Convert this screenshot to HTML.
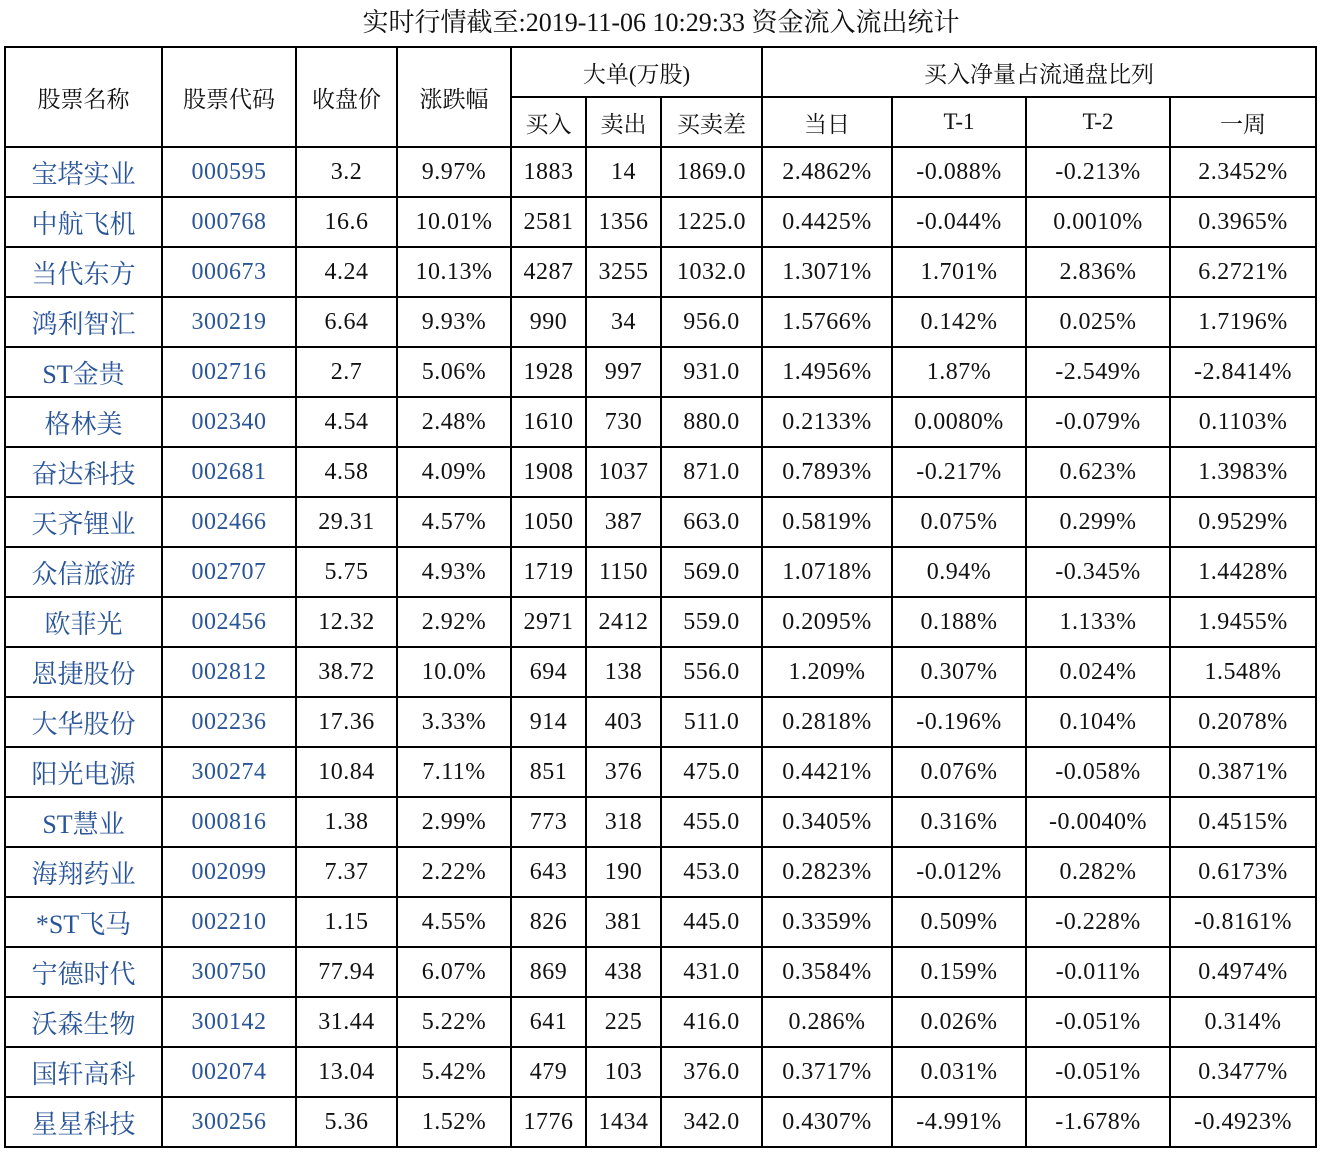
<!DOCTYPE html>
<html><head><meta charset="utf-8"><style>
body{margin:0;background:#fff;width:1322px;height:1154px;overflow:hidden;font-family:"Liberation Serif","Noto Serif CJK SC",serif;}
.t{position:absolute;left:0;top:8px;width:1322px;text-align:center;font-size:26px;line-height:30px;color:#111;}
table{position:absolute;left:4px;top:46px;border-collapse:collapse;table-layout:fixed;width:1311px;}
td{border:2px solid #000;text-align:center;padding:0;font-size:24px;color:#111;height:48px;white-space:nowrap;overflow:hidden;letter-spacing:0.5px;}
tr.h td{font-size:23px;letter-spacing:0;}
td.n{color:#2a5598;font-size:26px;letter-spacing:0;}
td.c{color:#2a5598;}
</style></head><body>
<div class="t">实时行情截至:2019-11-06 10:29:33 资金流入流出统计</div>
<table>
<colgroup><col style="width:157px"><col style="width:134px"><col style="width:101px"><col style="width:114px"><col style="width:75px"><col style="width:75px"><col style="width:101px"><col style="width:130px"><col style="width:134px"><col style="width:144px"><col style="width:146px"></colgroup>
<tr class="h"><td rowspan="2">股票名称</td><td rowspan="2">股票代码</td><td rowspan="2">收盘价</td><td rowspan="2">涨跌幅</td><td colspan="3">大单(万股)</td><td colspan="4">买入净量占流通盘比列</td></tr>
<tr class="h"><td>买入</td><td>卖出</td><td>买卖差</td><td>当日</td><td>T-1</td><td>T-2</td><td>一周</td></tr>
<tr><td class="n">宝塔实业</td><td class="c">000595</td><td>3.2</td><td>9.97%</td><td>1883</td><td>14</td><td>1869.0</td><td>2.4862%</td><td>-0.088%</td><td>-0.213%</td><td>2.3452%</td></tr>
<tr><td class="n">中航飞机</td><td class="c">000768</td><td>16.6</td><td>10.01%</td><td>2581</td><td>1356</td><td>1225.0</td><td>0.4425%</td><td>-0.044%</td><td>0.0010%</td><td>0.3965%</td></tr>
<tr><td class="n">当代东方</td><td class="c">000673</td><td>4.24</td><td>10.13%</td><td>4287</td><td>3255</td><td>1032.0</td><td>1.3071%</td><td>1.701%</td><td>2.836%</td><td>6.2721%</td></tr>
<tr><td class="n">鸿利智汇</td><td class="c">300219</td><td>6.64</td><td>9.93%</td><td>990</td><td>34</td><td>956.0</td><td>1.5766%</td><td>0.142%</td><td>0.025%</td><td>1.7196%</td></tr>
<tr><td class="n">ST金贵</td><td class="c">002716</td><td>2.7</td><td>5.06%</td><td>1928</td><td>997</td><td>931.0</td><td>1.4956%</td><td>1.87%</td><td>-2.549%</td><td>-2.8414%</td></tr>
<tr><td class="n">格林美</td><td class="c">002340</td><td>4.54</td><td>2.48%</td><td>1610</td><td>730</td><td>880.0</td><td>0.2133%</td><td>0.0080%</td><td>-0.079%</td><td>0.1103%</td></tr>
<tr><td class="n">奋达科技</td><td class="c">002681</td><td>4.58</td><td>4.09%</td><td>1908</td><td>1037</td><td>871.0</td><td>0.7893%</td><td>-0.217%</td><td>0.623%</td><td>1.3983%</td></tr>
<tr><td class="n">天齐锂业</td><td class="c">002466</td><td>29.31</td><td>4.57%</td><td>1050</td><td>387</td><td>663.0</td><td>0.5819%</td><td>0.075%</td><td>0.299%</td><td>0.9529%</td></tr>
<tr><td class="n">众信旅游</td><td class="c">002707</td><td>5.75</td><td>4.93%</td><td>1719</td><td>1150</td><td>569.0</td><td>1.0718%</td><td>0.94%</td><td>-0.345%</td><td>1.4428%</td></tr>
<tr><td class="n">欧菲光</td><td class="c">002456</td><td>12.32</td><td>2.92%</td><td>2971</td><td>2412</td><td>559.0</td><td>0.2095%</td><td>0.188%</td><td>1.133%</td><td>1.9455%</td></tr>
<tr><td class="n">恩捷股份</td><td class="c">002812</td><td>38.72</td><td>10.0%</td><td>694</td><td>138</td><td>556.0</td><td>1.209%</td><td>0.307%</td><td>0.024%</td><td>1.548%</td></tr>
<tr><td class="n">大华股份</td><td class="c">002236</td><td>17.36</td><td>3.33%</td><td>914</td><td>403</td><td>511.0</td><td>0.2818%</td><td>-0.196%</td><td>0.104%</td><td>0.2078%</td></tr>
<tr><td class="n">阳光电源</td><td class="c">300274</td><td>10.84</td><td>7.11%</td><td>851</td><td>376</td><td>475.0</td><td>0.4421%</td><td>0.076%</td><td>-0.058%</td><td>0.3871%</td></tr>
<tr><td class="n">ST慧业</td><td class="c">000816</td><td>1.38</td><td>2.99%</td><td>773</td><td>318</td><td>455.0</td><td>0.3405%</td><td>0.316%</td><td>-0.0040%</td><td>0.4515%</td></tr>
<tr><td class="n">海翔药业</td><td class="c">002099</td><td>7.37</td><td>2.22%</td><td>643</td><td>190</td><td>453.0</td><td>0.2823%</td><td>-0.012%</td><td>0.282%</td><td>0.6173%</td></tr>
<tr><td class="n">*ST飞马</td><td class="c">002210</td><td>1.15</td><td>4.55%</td><td>826</td><td>381</td><td>445.0</td><td>0.3359%</td><td>0.509%</td><td>-0.228%</td><td>-0.8161%</td></tr>
<tr><td class="n">宁德时代</td><td class="c">300750</td><td>77.94</td><td>6.07%</td><td>869</td><td>438</td><td>431.0</td><td>0.3584%</td><td>0.159%</td><td>-0.011%</td><td>0.4974%</td></tr>
<tr><td class="n">沃森生物</td><td class="c">300142</td><td>31.44</td><td>5.22%</td><td>641</td><td>225</td><td>416.0</td><td>0.286%</td><td>0.026%</td><td>-0.051%</td><td>0.314%</td></tr>
<tr><td class="n">国轩高科</td><td class="c">002074</td><td>13.04</td><td>5.42%</td><td>479</td><td>103</td><td>376.0</td><td>0.3717%</td><td>0.031%</td><td>-0.051%</td><td>0.3477%</td></tr>
<tr><td class="n">星星科技</td><td class="c">300256</td><td>5.36</td><td>1.52%</td><td>1776</td><td>1434</td><td>342.0</td><td>0.4307%</td><td>-4.991%</td><td>-1.678%</td><td>-0.4923%</td></tr>
</table>
</body></html>
